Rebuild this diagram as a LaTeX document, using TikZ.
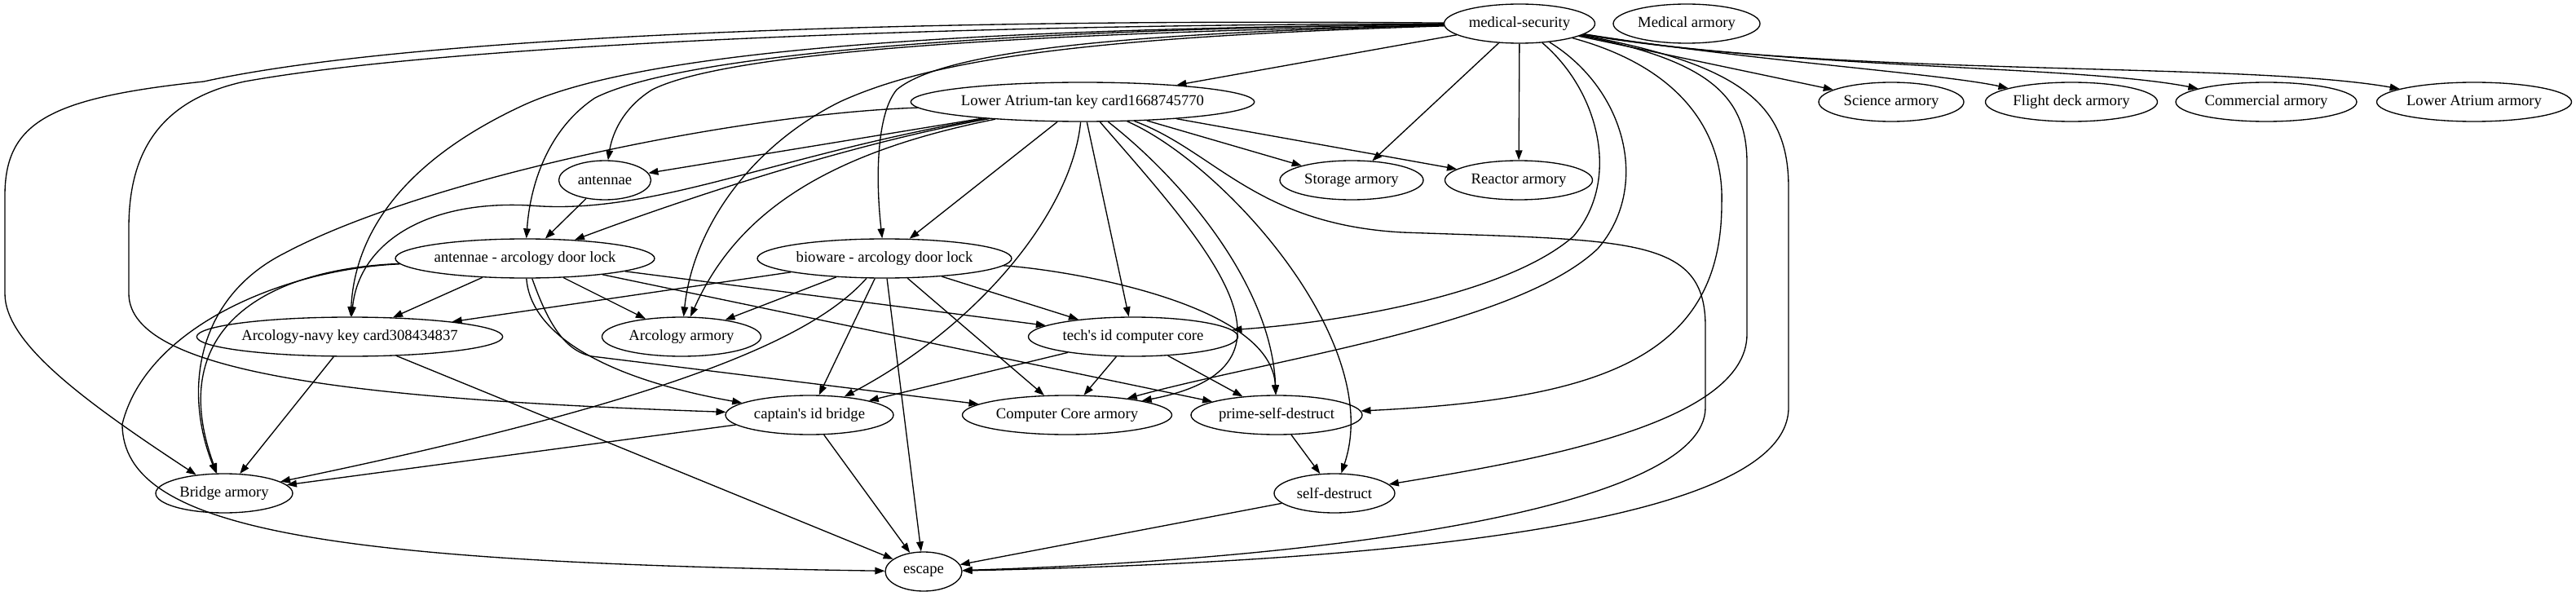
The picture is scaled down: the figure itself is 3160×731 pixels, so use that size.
\documentclass[tikz,border=0pt]{standalone}
\usepackage{fontspec}
\setmainfont{Liberation Serif}
\usetikzlibrary{shapes.geometric, arrows.meta}

\begin{document}
\begin{tikzpicture}[x=0.75pt, y=-0.75pt,
  room/.style={ellipse, draw, line width=1pt, inner sep=0pt,
               minimum height=36pt, font=\fontsize{14}{16}\selectfont},
  link/.style={draw, line width=1pt, -{Triangle[length=9pt, width=6.5pt]}}
]
  \useasboundingbox (0,0) rectangle (3160,731);

  \node[room, minimum width=138.75pt] (medsec) at (1864,29) {medical-security};
  \node[room, minimum width=135pt] (medarm) at (2069,29) {Medical armory};
  \node[room, minimum width=306pt] (latan) at (1328,125) {Lower Atrium-tan key card1668745770};
  \node[room, minimum width=133.5pt] (science) at (2320,125) {Science armory};
  \node[room, minimum width=158.25pt] (flight) at (2541,125) {Flight deck armory};
  \node[room, minimum width=166.5pt] (commercial) at (2780,125) {Commercial armory};
  \node[room, minimum width=179.25pt] (lowatrium) at (3035,125) {Lower Atrium armory};
  \node[room, minimum width=84.75pt] (antennae) at (742,221) {antennae};
  \node[room, minimum width=132pt] (storage) at (1658,221) {Storage armory};
  \node[room, minimum width=135.75pt] (reactor) at (1863,221) {Reactor armory};
  \node[room, minimum width=238.5pt] (aad) at (644,317) {antennae - arcology door lock};
  \node[room, minimum width=234pt] (bad) at (1085,317) {bioware - arcology door lock};
  \node[room, minimum width=274.5pt] (ank) at (429,413) {Arcology-navy key card308434837};
  \node[room, minimum width=146.25pt] (arcarm) at (836,413) {Arcology armory};
  \node[room, minimum width=192.75pt] (tech) at (1390,413) {tech\textquotesingle s id computer core};
  \node[room, minimum width=154.5pt] (captain) at (993,509) {captain\textquotesingle s id bridge};
  \node[room, minimum width=192.75pt] (ccarm) at (1309,509) {Computer Core armory};
  \node[room, minimum width=157.5pt] (prime) at (1566,509) {prime-self-destruct};
  \node[room, minimum width=126pt] (bridge) at (275,605) {Bridge armory};
  \node[room, minimum width=111pt] (selfd) at (1637,605) {self-destruct};
  \node[room, minimum width=70.5pt] (escape) at (1133,701) {escape};

  \draw[link] (medsec) -- (latan);
  \draw[link] (medsec) -- (storage);
  \draw[link] (medsec) -- (reactor);
  \draw[link] (medsec) -- (science);
  \draw[link] (medsec) .. controls (2150,75) and (2380,90) .. (flight);
  \draw[link] (medsec) .. controls (2200,85) and (2550,80) .. (commercial);
  \draw[link] (medsec) .. controls (2250,95) and (2750,75) .. (lowatrium);
  \draw[link] (medsec) .. controls (1300,40) and (900,60) .. (800,110)
    .. controls (760,135) and (750,170) .. (antennae);
  \draw[link] (medsec) .. controls (1300,35) and (850,60) .. (730,120)
    .. controls (670,160) and (650,230) .. (aad);
  \draw[link] (medsec) .. controls (1400,40) and (1160,60) .. (1100,110)
    .. controls (1075,140) and (1074,220) .. (bad);
  \draw[link] (medsec) .. controls (1350,45) and (1150,70) .. (1030,125)
    .. controls (920,180) and (850,280) .. (arcarm);
  \draw[link] (medsec) .. controls (1250,35) and (800,55) .. (640,130)
    .. controls (490,200) and (435,290) .. (ank);
  \draw[link] (medsec) .. controls (1150,30) and (550,55) .. (300,100)
    .. controls (185,125) and (158,200) .. (158,280) -- (158,360)
    .. controls (158,460) and (450,490) .. (captain);
  \draw[link] (medsec) .. controls (1100,22) and (500,45) .. (250,100)
    .. controls (60,120) and (6,150) .. (6,240) -- (6,360)
    .. controls (6,420) and (100,490) .. (bridge);
  \draw[link] (medsec) .. controls (1960,110) and (1990,220) .. (1930,290)
    .. controls (1850,360) and (1650,395) .. (tech);
  \draw[link] (medsec) .. controls (1995,110) and (2025,230) .. (1960,305)
    .. controls (1860,400) and (1560,440) .. (ccarm);
  \draw[link] (medsec) .. controls (2070,85) and (2115,170) .. (2112,250)
    .. controls (2112,440) and (1960,490) .. (prime);
  \draw[link] (medsec) .. controls (2100,75) and (2143,120) .. (2143,200) -- (2143,410)
    .. controls (2143,520) and (1880,565) .. (selfd);
  \draw[link] (medsec) .. controls (2140,80) and (2194,130) .. (2194,230) -- (2194,500)
    .. controls (2194,650) and (1650,690) .. (escape);

  \draw[link] (latan) -- (storage);
  \draw[link] (latan) -- (reactor);
  \draw[link] (latan) -- (antennae);
  \draw[link] (latan) .. controls (1050,175) and (850,240) .. (aad);
  \draw[link] (latan) -- (bad);
  \draw[link] (latan) .. controls (950,190) and (800,265) .. (650,252)
    .. controls (520,245) and (440,300) .. (ank);
  \draw[link] (latan) .. controls (900,140) and (520,220) .. (350,310)
    .. controls (240,365) and (225,480) .. (bridge);
  \draw[link] (latan) .. controls (1000,190) and (900,270) .. (arcarm);
  \draw[link] (latan) .. controls (1315,260) and (1200,400) .. (captain);
  \draw[link] (latan) -- (tech);
  \draw[link] (latan) .. controls (1480,300) and (1620,450) .. (ccarm);
  \draw[link] (latan) .. controls (1450,220) and (1560,350) .. (prime);
  \draw[link] (latan) .. controls (1500,200) and (1700,420) .. (selfd);
  \draw[link] (latan) .. controls (1490,185) and (1540,275) .. (1720,285)
    .. controls (2000,295) and (2092,290) .. (2092,400) -- (2092,500)
    .. controls (2092,620) and (1650,685) .. (escape);

  \draw[link] (antennae) -- (aad);

  \draw[link] (aad) -- (ank);
  \draw[link] (aad) -- (arcarm);
  \draw[link] (aad) .. controls (650,400) and (720,460) .. (captain);
  \draw[link] (aad) .. controls (670,390) and (690,430) .. (726,437) -- (ccarm);
  \draw[link] (aad) -- (tech);
  \draw[link] (aad) -- (prime);
  \draw[link] (aad) .. controls (330,330) and (200,400) .. (bridge);
  \draw[link] (aad) .. controls (350,330) and (180,400) .. (150,520)
    .. controls (150,650) and (400,690) .. (escape);

  \draw[link] (bad) -- (ank);
  \draw[link] (bad) -- (arcarm);
  \draw[link] (bad) .. controls (1010,400) and (880,480) .. (bridge);
  \draw[link] (bad) -- (captain);
  \draw[link] (bad) -- (escape);
  \draw[link] (bad) -- (ccarm);
  \draw[link] (bad) -- (tech);
  \draw[link] (bad) .. controls (1300,330) and (1560,370) .. (prime);

  \draw[link] (ank) -- (bridge);
  \draw[link] (ank) -- (escape);

  \draw[link] (tech) -- (captain);
  \draw[link] (tech) -- (ccarm);
  \draw[link] (tech) -- (prime);

  \draw[link] (captain) -- (bridge);
  \draw[link] (captain) -- (escape);

  \draw[link] (prime) -- (selfd);
  \draw[link] (selfd) -- (escape);
\end{tikzpicture}
\end{document}
